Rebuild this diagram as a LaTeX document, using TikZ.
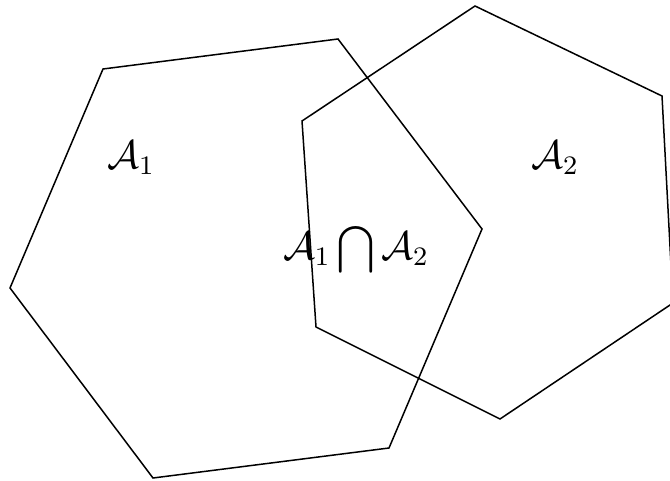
\documentclass[tikz,border=0pt]{standalone}
\begin{document}
\begin{tikzpicture}[x=0.3pt,y=-0.3pt,
  hexline/.style={draw=black,line width=0.45pt,line join=miter},
  lbl/.style={inner sep=0pt,font=\fontsize{11.7}{14}\selectfont}]
\useasboundingbox (0,0) rectangle (670,481);
\clip (0,0) rectangle (670,481);
\draw[hexline] (103,69) -- (338,39) -- (482,229) -- (389,448) -- (153,478) -- (10,288) -- cycle;
\draw[hexline] (302,121) -- (475,6) -- (662,96) -- (673,303) -- (500,419) -- (316,327) -- cycle;
\node[lbl] (a1) at (131,158) {$\mathcal{A}_1$};
\node[lbl] (a2) at (555,158) {$\mathcal{A}_2$};
\node[lbl,anchor=base] (a12) at (356,260) {$\displaystyle\mathcal{A}_1\bigcap\mathcal{A}_2$};
\end{tikzpicture}
\end{document}
